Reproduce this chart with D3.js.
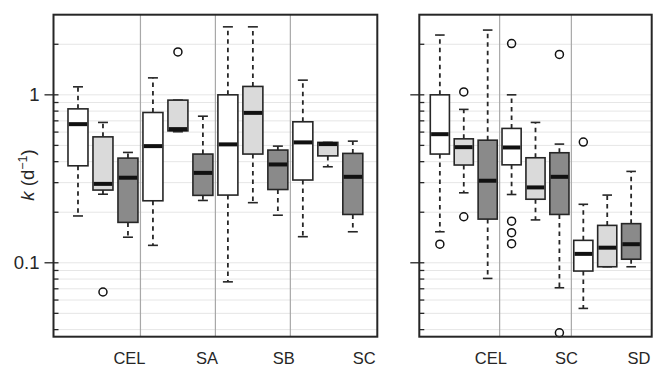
<!DOCTYPE html>
<html><head><meta charset="utf-8">
<script src="https://cdn.jsdelivr.net/npm/d3@7"></script>
<style>html,body{margin:0;padding:0;background:#fff}svg{display:block}</style>
</head><body><div id="chart"></div>
<script>
// ---- data ----
const leftGroups = ["CEL","SA","SB","SC"];
const rightGroups = ["CEL","SC","SD"];
const treatments = ["white","light","dark"];

const leftLow  = [0.190,0.256,0.142, 0.127,0.603,0.235, 0.077,0.228,0.192, 0.143,0.373,0.153];
const leftQ1   = [0.378,0.271,0.174, 0.234,0.610,0.252, 0.253,0.444,0.273, 0.311,0.433,0.194];
const leftMed  = [0.669,0.295,0.321, 0.495,0.625,0.343, 0.507,0.781,0.385, 0.521,0.509,0.325];
const leftQ3   = [0.825,0.562,0.420, 0.785,0.930,0.444, 1.000,1.122,0.469, 0.691,0.521,0.448];
const leftHigh = [1.116,0.685,0.454, 1.262,0.930,0.746, 2.540,2.540,0.495, 1.223,0.521,0.530];
const leftOut  = [[],[0.067],[], [],[1.80],[], [],[],[], [],[],[]];

const rightLow  = [0.153,0.261,0.0807, 0.255,0.180,0.071, 0.0535,0.0947,0.0947];
const rightQ1   = [0.444,0.382,0.182,  0.383,0.239,0.194, 0.0893,0.0947,0.105];
const rightMed  = [0.583,0.488,0.308,  0.486,0.281,0.325, 0.113,0.123,0.129];
const rightQ3   = [1.000,0.547,0.537,  0.631,0.422,0.452, 0.136,0.167,0.171];
const rightHigh = [2.270,0.819,2.430,  1.000,0.685,0.509, 0.223,0.253,0.350];
const rightOut  = [[0.129],[1.04,0.188],[], [2.02,0.177,0.151,0.130],[],[1.74,0.0383], [0.523],[],[]];

const majorTicks = [0.1, 1];
const majorLabels = ["0.1", "1"];
const minorTicks = [0.04,0.05,0.06,0.07,0.08,0.09,0.2,0.3,0.4,0.5,0.6,0.7,0.8,0.9,2];

// ---- layout / style ----
const W = 653, H = 367;
const fills = {white:"#ffffff", light:"#dadada", dark:"#8a8a8a"};
const ink = "#262626";
const svg = d3.select("#chart").append("svg").attr("width", W).attr("height", H)
  .style("font-family", "'Liberation Sans', Arial, sans-serif");

const y = d3.scaleLog().domain([0.0363, 3]).range([336.7, 14.7]);

function build(groups, low, q1, med, q3, high, outs) {
  return low.map((d, i) => ({
    group: groups[Math.floor(i / 3)], treat: treatments[i % 3], pos: i + 1,
    low: d, q1: q1[i], med: med[i], q3: q3[i], high: high[i], out: outs[i]
  }));
}

const panels = [
  {x0: 53.5, x1: 377.3, groups: leftGroups, labelShift: [0.06, 0.16, 0.24, 0.46], axisLabels: true,
   boxes: build(leftGroups, leftLow, leftQ1, leftMed, leftQ3, leftHigh, leftOut)},
  {x0: 419.3, x1: 651.7, groups: rightGroups, labelShift: [0.13, 0.30, 0.33], axisLabels: false,
   boxes: build(rightGroups, rightLow, rightQ1, rightMed, rightQ3, rightHigh, rightOut)}
];

panels.forEach(p => {
  const n = p.boxes.length;
  const x = d3.scaleLinear().domain([0.5 - 0.04 * n, n + 0.5 + 0.04 * n]).range([p.x0, p.x1]);
  const g = svg.append("g");
  const [yb, yt] = y.range();

  // grid
  g.selectAll("line.grid").data(minorTicks.concat(majorTicks)).join("line")
    .attr("x1", p.x0).attr("x2", p.x1).attr("y1", d => y(d)).attr("y2", d => y(d))
    .attr("stroke", "#e6e6e6").attr("stroke-width", 1);

  // separators
  g.selectAll("line.sep").data(d3.range(1, p.groups.length)).join("line")
    .attr("x1", d => x(d * 3 + 0.5)).attr("x2", d => x(d * 3 + 0.5))
    .attr("y1", yt).attr("y2", yb).attr("stroke", "#a8a8a8").attr("stroke-width", 1.2);

  const bw = 0.8, cap = 0.2;
  const b = g.selectAll("g.box").data(p.boxes).join("g");
  // whiskers
  b.append("line").attr("x1", d => x(d.pos)).attr("x2", d => x(d.pos))
    .attr("y1", d => y(d.q3)).attr("y2", d => y(d.high))
    .attr("stroke", ink).attr("stroke-width", 1.8).attr("stroke-dasharray", "4.5,4");
  b.append("line").attr("x1", d => x(d.pos)).attr("x2", d => x(d.pos))
    .attr("y1", d => y(d.q1)).attr("y2", d => y(d.low))
    .attr("stroke", ink).attr("stroke-width", 1.8).attr("stroke-dasharray", "4.5,4");
  // caps
  b.append("line").attr("x1", d => x(d.pos - cap)).attr("x2", d => x(d.pos + cap))
    .attr("y1", d => y(d.high)).attr("y2", d => y(d.high)).attr("stroke", ink).attr("stroke-width", 1.6);
  b.append("line").attr("x1", d => x(d.pos - cap)).attr("x2", d => x(d.pos + cap))
    .attr("y1", d => y(d.low)).attr("y2", d => y(d.low)).attr("stroke", ink).attr("stroke-width", 1.6);
  // box
  b.append("rect").attr("x", d => x(d.pos - bw / 2)).attr("width", d => x(d.pos + bw / 2) - x(d.pos - bw / 2))
    .attr("y", d => y(d.q3)).attr("height", d => y(d.q1) - y(d.q3))
    .attr("fill", d => fills[d.treat]).attr("stroke", ink).attr("stroke-width", 1.6);
  // median
  b.append("line").attr("x1", d => x(d.pos - bw / 2) + 0.8).attr("x2", d => x(d.pos + bw / 2) - 0.8)
    .attr("y1", d => y(d.med)).attr("y2", d => y(d.med)).attr("stroke", "#111").attr("stroke-width", 4);
  // outliers
  b.selectAll("circle").data(d => d.out.map(v => ({pos: d.pos, v}))).join("circle")
    .attr("cx", d => x(d.pos)).attr("cy", d => y(d.v)).attr("r", 4)
    .attr("fill", "none").attr("stroke", "#111").attr("stroke-width", 1.5);

  // frame
  g.append("rect").attr("x", p.x0).attr("y", yt).attr("width", p.x1 - p.x0).attr("height", yb - yt)
    .attr("fill", "none").attr("stroke", ink).attr("stroke-width", 2);

  // y ticks
  g.selectAll("line.minor").data(minorTicks).join("line")
    .attr("x1", p.x0).attr("x2", p.x0 + 5).attr("y1", d => y(d)).attr("y2", d => y(d))
    .attr("stroke", ink).attr("stroke-width", 1.3);
  g.selectAll("line.major").data(majorTicks).join("line")
    .attr("x1", p.x0 - 9).attr("x2", p.x0 + 5).attr("y1", d => y(d)).attr("y2", d => y(d))
    .attr("stroke", ink).attr("stroke-width", 1.3);
  if (p.axisLabels) {
    g.selectAll("text.tl").data(majorTicks).join("text")
      .attr("x", p.x0 - 14).attr("y", d => y(d)).attr("dy", "0.36em")
      .attr("text-anchor", "end").attr("font-size", 18.5).attr("fill", ink)
      .text((d, i) => majorLabels[i]);
  }

  // category labels
  g.selectAll("text.cat").data(p.groups).join("text")
    .attr("x", (d, i) => x(i * 3 + 3 + p.labelShift[i])).attr("y", 364)
    .attr("text-anchor", "middle").attr("font-size", 16.5).attr("fill", ink)
    .text(d => d);
});

// y axis title
const t = svg.append("text").attr("transform", "translate(34,175) rotate(-90)")
  .attr("text-anchor", "middle").attr("font-size", 18.5).attr("fill", ink);
t.append("tspan").attr("font-style", "italic").text("k");
t.append("tspan").text(" (d");
t.append("tspan").attr("font-size", 12.5).attr("dy", -7).text("−1");
t.append("tspan").attr("dy", 7).text(")");
</script></body></html>
